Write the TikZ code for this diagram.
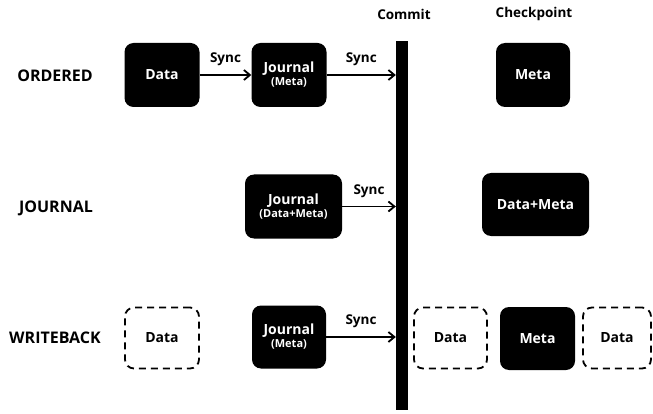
\documentclass[tikz,border=0pt]{standalone}
\usepackage{fontspec}
\setmainfont{Open Sans}
\usetikzlibrary{arrows.meta}

\tikzset{
  blk/.style={fill=black, rounded corners=9pt, text=white, font=\bfseries\fontsize{14}{15}\selectfont, align=center,
    minimum width=75pt, minimum height=64pt, inner sep=0pt},
  dsh/.style={draw=black, dash pattern=on 7pt off 5pt, line width=1.8pt, rounded corners=9pt,
    font=\bfseries\fontsize{14}{15}\selectfont, minimum width=74pt, minimum height=61pt, inner sep=0pt},
  mode/.style={font=\bfseries\fontsize{16}{18}\selectfont},
  sync/.style={font=\bfseries\fontsize{13.5}{15}\selectfont},
  syncarr/.style={-{Straight Barb[length=6pt,width=10pt]}, line width=1.8pt},
}
\newcommand{\subtxt}[1]{\\[-2pt]{\fontsize{11}{12}\selectfont #1}}

\begin{document}
\begin{tikzpicture}[x=1pt,y=-1pt]
\useasboundingbox (0,0) rectangle (653,414);
% modes
\node[mode] (ordered) at (55,76) {ORDERED};
\node[mode] (journal) at (56,208) {JOURNAL};
\node[mode] (writeback) at (55,338) {WRITEBACK};
% titles
\node[sync] (commit) at (404,14) {Commit};
\node[sync] (checkpoint) at (534,14) {Checkpoint};
% commit bar
\node[fill=black, minimum width=12pt, minimum height=369pt, inner sep=0pt] (bar) at (402,225.5) {};

% ordered
\node[blk] (odata) at (162,75) {Data};
\node[blk] (ojournal) at (289,75) {Journal\subtxt{(Meta)}};
\node[blk, minimum width=74pt] (ometa) at (533,75) {Meta};
\draw[syncarr] (odata) -- (ojournal) node[midway, above=5pt, sync] {Sync};
\draw[syncarr] (ojournal) -- (ojournal -| bar.west) node[midway, above=5pt, sync] {Sync};

% journal
\node[blk, minimum width=97pt] (jjournal) at (293.5,206.5) {Journal\subtxt{(Data+Meta)}};
\node[blk, minimum width=107pt, minimum height=63pt] (jboth) at (535.5,204.5) {Data+Meta};
\draw[syncarr] (jjournal) -- (jjournal -| bar.west) node[midway, above=5pt, sync] {Sync};

% writeback
\node[dsh] (wdata) at (162,338) {Data};
\node[blk, minimum width=74pt, minimum height=63pt] (wjournal) at (289,337) {Journal\subtxt{(Meta)}};
\draw[syncarr] (wjournal) -- (wjournal -| bar.west) node[midway, above=5pt, sync] {Sync};
\node[dsh, minimum width=73pt] (wdata2) at (450.5,338) {Data};
\node[blk, minimum width=75pt, minimum height=63pt] (wmeta) at (537.5,338.5) {Meta};
\node[dsh, minimum width=68pt] (wdata3) at (617,338) {Data};
\end{tikzpicture}
\end{document}
